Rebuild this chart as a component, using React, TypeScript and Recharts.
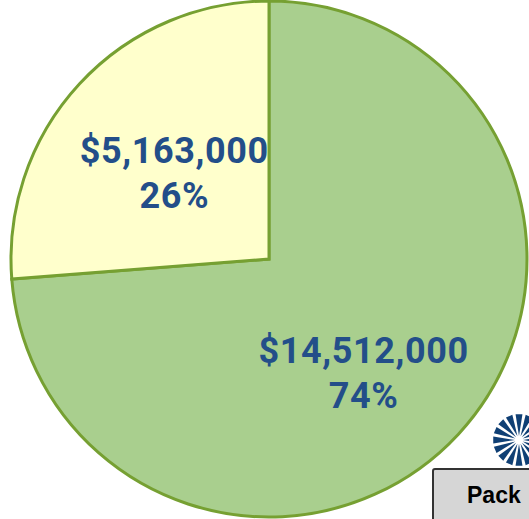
import { PieChart, Pie, Cell } from "recharts";

const categories = ["Green", "Yellow"];
const amounts = [14512000, 5163000];
const colors = ["#A9CF8E", "#FFFFCC"];
// small vertical nudge for each label, px
const labelNudge = [25, 0];

const total = amounts.reduce((a, b) => a + b, 0);
const data = categories.map((name, i) => ({ name, value: amounts[i] }));

const RAD = Math.PI / 180;

function renderLabel(props: any) {
  const { cx, cy, midAngle, outerRadius, index, value } = props;
  const r = outerRadius * 0.5;
  const x = cx + r * Math.cos(-midAngle * RAD);
  const y = cy + r * Math.sin(-midAngle * RAD) + labelNudge[index];
  const pct = Math.round((value / total) * 100);
  return (
    <text
      x={x}
      y={y}
      textAnchor="middle"
      fill="#234E89"
      fontFamily="Roboto"
      fontWeight={700}
      fontSize={36}
      letterSpacing={0.6}
    >
      <tspan x={x} dy={-8.5}>
        ${value.toLocaleString("en-US")}
      </tspan>
      <tspan x={x} dy={45}>
        {pct}%
      </tspan>
    </text>
  );
}

function Burst() {
  const n = 16;
  const spokes = [];
  for (let i = 0; i < n; i++) {
    const a0 = ((i - 0.34) * 360) / n;
    const a1 = ((i + 0.34) * 360) / n;
    const p = (a: number, r: number) =>
      `${(r * Math.cos(a * RAD)).toFixed(2)},${(r * Math.sin(a * RAD)).toFixed(2)}`;
    spokes.push(
      <polygon
        key={i}
        points={`${p(i * 360 / n, 4)} ${p(a0, 26)} ${p(a1, 26)}`}
        fill="#0F3F74"
      />
    );
  }
  return (
    <svg
      width={60}
      height={60}
      style={{ position: "absolute", left: 489, top: 410 }}
    >
      <g transform="translate(30,30)">
        {spokes}
        <circle r={2.5} fill="#fff" />
      </g>
    </svg>
  );
}

export default function App() {
  return (
    <div
      style={{
        position: "absolute",
        left: 0,
        top: 0,
        width: 529,
        height: 519,
        overflow: "hidden",
        background: "#fff",
      }}
    >
      <PieChart
        width={529}
        height={519}
        margin={{ top: 0, right: 0, bottom: 0, left: 0 }}
      >
        <Pie
          data={data}
          dataKey="value"
          cx={269}
          cy={259}
          outerRadius={258}
          startAngle={90}
          endAngle={-270}
          stroke="#76A032"
          strokeWidth={3}
          label={renderLabel}
          labelLine={false}
          isAnimationActive={false}
        >
          {data.map((d, i) => (
            <Cell key={d.name} fill={colors[i]} />
          ))}
        </Pie>
      </PieChart>
      <Burst />
      <div
        style={{
          position: "absolute",
          left: 432,
          top: 468,
          width: 120,
          height: 60,
          boxSizing: "border-box",
          border: "2px solid #333",
          borderRadius: 3,
          background: "#D6D6D6",
          fontFamily: "Liberation Sans, Arial",
          fontWeight: 700,
          fontSize: 23,
          paddingLeft: 33,
          paddingTop: 12,
          lineHeight: "26px",
        }}
      >
        Pack
      </div>
    </div>
  );
}
